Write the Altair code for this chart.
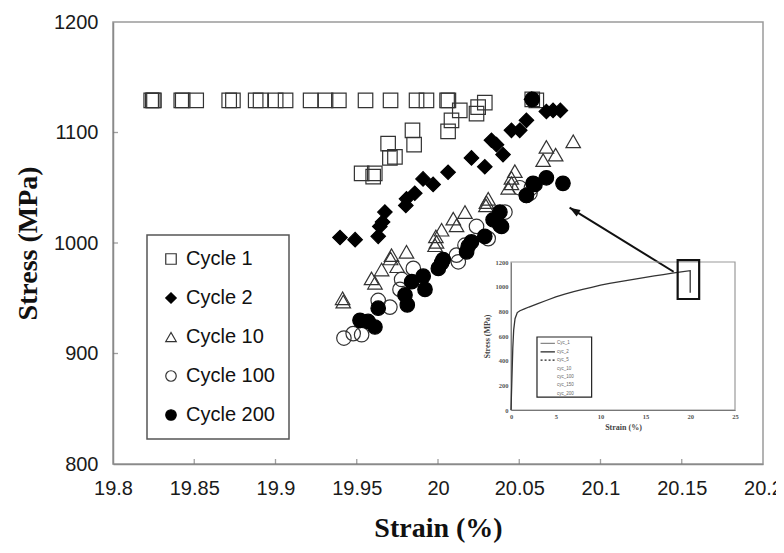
import altair as alt
import pandas as pd

cycles = ["Cycle 1", "Cycle 2", "Cycle 10", "Cycle 100", "Cycle 200"]

c1_strain = [19.8235, 19.8245, 19.8252, 19.842, 19.8429, 19.8512, 19.8715, 19.8738, 19.8878, 19.8908,
             19.9001, 19.9062, 19.9216, 19.9308, 19.939, 19.9554, 19.9708, 19.9868, 19.9929, 20.0056,
             20.0064, 20.058, 20.0605,
             20.0134, 20.0247, 20.0288, 20.0237, 20.0083, 20.0062, 19.9843, 19.9853, 19.9693, 19.9704,
             19.9735, 19.953, 19.9601, 19.9611]
c1_stress = [1129] * 21 + [1130, 1129] + [1120, 1123, 1127, 1117, 1111, 1101, 1102, 1089, 1090, 1077,
                                          1078, 1063, 1060, 1063]

c2_strain = [19.9397, 19.949, 19.9632, 19.9642, 19.9659, 19.9673, 19.9802, 19.9806, 19.9857, 19.9908,
             19.997, 20.0062, 20.0206, 20.0288, 20.0329, 20.036, 20.04, 20.0452, 20.0503, 20.0544,
             20.0575, 20.0667, 20.0708, 20.0753]
c2_stress = [1005, 1003, 1006, 1015, 1019, 1028, 1034, 1040, 1045, 1058, 1053, 1064, 1077, 1069, 1093,
             1089, 1080, 1102, 1102, 1111, 1130, 1119, 1120, 1120]

c10_strain = [20.0832, 20.0667, 20.0724, 20.0647, 20.0473, 20.0452, 20.0432, 20.0309, 20.0295, 20.0166,
              20.0094, 20.0114, 20.0022, 19.9991, 19.9806, 19.9714, 19.9708, 19.9653, 19.9591, 19.9612,
              19.9749, 19.9987, 19.9982, 20.0298, 20.0452, 19.9413, 19.9417]
c10_stress = [1092, 1087, 1080, 1075, 1065, 1059, 1050, 1040, 1034, 1028, 1022, 1016, 1012, 1001, 992,
              989, 986, 976, 968, 964, 979, 1006, 998, 1037, 1054, 950, 947]

c100_strain = [19.9421, 19.9478, 19.953, 19.9632, 19.9704, 19.9776, 19.9848, 19.9766, 20.0125, 20.0114,
               20.0166, 20.0237, 20.0309, 20.0412, 20.0503, 20.0575, 20.0544, 20.0566]
c100_stress = [914, 918, 917, 948, 942, 967, 977, 958, 983, 989, 998, 1015, 1004, 1028, 1050, 1050,
               1043, 1045]

c200_strain = [19.952, 19.957, 19.9612, 19.9632, 19.9811, 19.9797, 19.9838, 19.9909, 19.992, 20.0002,
               20.0022, 20.0176, 20.0206, 20.0288, 20.0339, 20.0391, 20.0381, 20.0544, 20.0585, 20.0769,
               20.0597, 20.0667, 20.0381, 20.0186, 20.0032, 20.058]
c200_stress = [930, 929, 924, 941, 944, 953, 965, 970, 958, 977, 982, 992, 1001, 1006, 1021, 1015, 1028,
               1043, 1054, 1054, 1053, 1059, 1016, 997, 985, 1130]

x_ticks = [19.8, 19.85, 19.9, 19.95, 20.0, 20.05, 20.1, 20.15, 20.2]
y_ticks = [800, 900, 1000, 1100, 1200]

# arrow (tail near the inset box, head at the data)
arrow_strain = [20.145, 20.081]
arrow_stress = [974, 1032]

# inset: full tensile curve
inset_strain = [0, 0.1, 0.2, 0.3, 0.45, 0.7, 1, 1.5, 2, 3, 4, 5, 6, 7, 8, 9, 10, 11, 12, 13, 14, 15,
                16, 17, 18, 19, 20, 20]
inset_stress = [0, 250, 500, 650, 740, 790, 805, 820, 835, 862, 890, 918, 940, 960, 978, 995, 1012,
                1026, 1039, 1051, 1063, 1075, 1087, 1098, 1110, 1120, 1130, 950]
inset_x_ticks = [0, 5, 10, 15, 20, 25]
inset_y_ticks = [0, 200, 400, 600, 800, 1000, 1200]
inset_zoom_box = [18.6, 21.0, 900, 1215]
inset_legend_box = [2.9, 9.0, 105, 592]
inset_legend_labels = ["Cyc_1", "cyc_2", "cyc_5", "cyc_10", "cyc_100", "cyc_150", "cyc_200"]
inset_legend_y = [540, 472, 404, 336, 268, 200, 132]

rows = []
for name, xs, ys in [("Cycle 1", c1_strain, c1_stress), ("Cycle 2", c2_strain, c2_stress),
                     ("Cycle 10", c10_strain, c10_stress), ("Cycle 100", c100_strain, c100_stress),
                     ("Cycle 200", c200_strain, c200_stress)]:
    for a, b in zip(xs, ys):
        rows.append({"cycle": name, "strain": a, "stress": b})
df = pd.DataFrame(rows)

xscale = alt.Scale(domain=[19.8, 20.2], nice=False, zero=False)
yscale = alt.Scale(domain=[800, 1200], nice=False, zero=False)

xaxis = alt.Axis(values=x_ticks, format="~g", ticks=False, grid=False, domainColor="#8a8a8a",
                 domainWidth=1.5, labelFont="Liberation Sans", labelFontSize=20, labelColor="#1a1a1a",
                 labelPadding=14, labelFlush=False, labelOverlap=False,
                 title="Strain (%)", titleFont="Liberation Serif", titleFontSize=28,
                 titleFontWeight="bold", titleColor="#111", titleX=325, titleY=64,
                 titleBaseline="middle", titleAlign="center")
yaxis = alt.Axis(values=y_ticks, format="d", ticks=False, grid=False, domainColor="#8a8a8a",
                 domainWidth=1.5, labelFont="Liberation Sans", labelFontSize=20, labelColor="#1a1a1a",
                 labelPadding=15, labelFlush=False, labelOverlap=False,
                 title="Stress (MPa)", titleFont="Liberation Serif", titleFontSize=28,
                 titleFontWeight="bold", titleColor="#111", titleX=-85, titleY=221,
                 titleAngle=-90, titleBaseline="middle", titleAlign="center")

legend_props = dict(title=None, orient="none", legendX=34, legendY=213)

points = alt.Chart(df).mark_point(filled=False, color="#222", strokeWidth=1.2, opacity=1).encode(
    x=alt.X("strain:Q", scale=xscale, axis=xaxis),
    y=alt.Y("stress:Q", scale=yscale, axis=yaxis),
    shape=alt.Shape("cycle:N", scale=alt.Scale(domain=cycles,
                    range=["square", "diamond", "triangle-up", "circle", "circle"]),
                    legend=alt.Legend(**legend_props)),
    fill=alt.Fill("cycle:N", scale=alt.Scale(domain=cycles,
                  range=["transparent", "#000000", "transparent", "transparent", "#000000"]),
                  legend=alt.Legend(**legend_props)),
    stroke=alt.Stroke("cycle:N", scale=alt.Scale(domain=cycles,
                      range=["#333333", "#000000", "#333333", "#333333", "#000000"]),
                      legend=alt.Legend(**legend_props)),
)

xt = alt.Chart(pd.DataFrame({"strain": x_ticks[1:-1], "stress": [800] * 7})).mark_tick(
    orient="vertical", color="#777", thickness=1.3, size=5, yOffset=-2.5).encode(
    x=alt.X("strain:Q", scale=xscale), y=alt.Y("stress:Q", scale=yscale))
yt = alt.Chart(pd.DataFrame({"stress": y_ticks[1:-1], "strain": [19.8] * 3})).mark_tick(
    orient="horizontal", color="#777", thickness=1.3, size=5, xOffset=2.5).encode(
    x=alt.X("strain:Q", scale=xscale), y=alt.Y("stress:Q", scale=yscale))

arrow_df = pd.DataFrame({"strain": arrow_strain, "stress": arrow_stress, "o": [0, 1]})
arrow_line = alt.Chart(arrow_df).mark_line(color="#111", strokeWidth=2).encode(
    x=alt.X("strain:Q", scale=xscale), y=alt.Y("stress:Q", scale=yscale), order="o:Q")
arrow_head = alt.Chart(arrow_df.iloc[[1]]).mark_point(
    shape="M0,0L-0.35,1L0.35,1Z", filled=True, color="#111", size=450, angle=302, opacity=1).encode(
    x=alt.X("strain:Q", scale=xscale), y=alt.Y("stress:Q", scale=yscale))

main = alt.layer(points, xt, yt, arrow_line, arrow_head)

# ---------------- inset ----------------
isx = alt.Scale(domain=[0, 25], range=[398, 622], nice=False, zero=False)
isy = alt.Scale(domain=[0, 1200], range=[388, 240], nice=False, zero=False)
iax = alt.Axis(values=inset_x_ticks, orient="bottom", offset=-54, ticks=False, grid=False,
               domainColor="#555", domainWidth=1, labelFont="Liberation Serif", labelFontSize=6.5,
               labelFontWeight="bold", labelColor="#555", labelPadding=3, labelFlush=False,
               format="d",
               title="Strain (%)", titleFont="Liberation Serif", titleFontSize=8,
               titleFontWeight="bold", titleColor="#444", titlePadding=4)
iay = alt.Axis(values=inset_y_ticks, orient="left", offset=-398, ticks=False, grid=False,
               domainColor="#555", domainWidth=1, labelFont="Liberation Serif", labelFontSize=6.5,
               labelFontWeight="bold", labelColor="#555", labelPadding=3, labelFlush=False,
               format="d",
               title="Stress (MPa)", titleFont="Liberation Serif", titleFontSize=8,
               titleFontWeight="bold", titleColor="#444", titlePadding=4)

frame = alt.Chart(pd.DataFrame({"s": [0], "s2": [25], "p": [0], "p2": [1200]})).mark_rect(
    fill="transparent", stroke="#9a9a9a", strokeWidth=1.2).encode(
    x=alt.X("s:Q", scale=isx, axis=iax), x2="s2", y=alt.Y("p:Q", scale=isy, axis=iay), y2="p2")
curve = alt.Chart(pd.DataFrame({"s": inset_strain, "p": inset_stress,
                                "o": list(range(len(inset_strain)))})).mark_line(
    color="#333", strokeWidth=1.3).encode(
    x=alt.X("s:Q", scale=isx, axis=iax), y=alt.Y("p:Q", scale=isy, axis=iay), order="o:Q")
zbox = alt.Chart(pd.DataFrame({"s": [inset_zoom_box[0]], "s2": [inset_zoom_box[1]],
                               "p": [inset_zoom_box[2]], "p2": [inset_zoom_box[3]]})).mark_rect(
    fill="transparent", stroke="#111", strokeWidth=2.2).encode(
    x=alt.X("s:Q", scale=isx, axis=iax), x2="s2", y=alt.Y("p:Q", scale=isy, axis=iay), y2="p2")
lbox = alt.Chart(pd.DataFrame({"s": [inset_legend_box[0]], "s2": [inset_legend_box[1]],
                               "p": [inset_legend_box[2]], "p2": [inset_legend_box[3]]})).mark_rect(
    fill="transparent", stroke="#222", strokeWidth=1.2).encode(
    x=alt.X("s:Q", scale=isx, axis=iax), x2="s2", y=alt.Y("p:Q", scale=isy, axis=iay), y2="p2")
leg_df = pd.DataFrame({"s": [3.3] * 7, "s2": [4.9] * 7, "p": inset_legend_y, "lab": inset_legend_labels,
                       "st": ["a", "b", "c", "d", "d", "d", "d"]})
leg_lines = alt.Chart(leg_df.iloc[:3]).mark_rule(strokeWidth=1.2).encode(
    x=alt.X("s:Q", scale=isx, axis=iax), x2="s2", y=alt.Y("p:Q", scale=isy, axis=iay),
    color=alt.Color("st:N", scale=alt.Scale(domain=["a", "b", "c"], range=["#888", "#222", "#222"]),
                    legend=None),
    strokeDash=alt.StrokeDash("st:N", scale=alt.Scale(domain=["a", "b", "c"],
                              range=[[1, 0], [1, 0], [2, 2]]), legend=None))
leg_text = alt.Chart(leg_df).mark_text(align="left", baseline="middle", fontSize=4.5, color="#666",
                                       dx=2).encode(
    x=alt.X("s2:Q", scale=isx, axis=iax), y=alt.Y("p:Q", scale=isy, axis=iay), text="lab:N")

inset = alt.layer(frame, curve, zbox, lbox, leg_lines, leg_text)

chart = alt.layer(main, inset).resolve_scale(
    x="independent", y="independent", color="independent", strokeDash="independent"
).properties(
    width=650, height=442,
    autosize=alt.AutoSizeParams(type="none"),
    padding={"left": 105, "top": 14, "right": 13, "bottom": 81},
).configure_view(
    stroke="#9a9a9a", strokeWidth=1.5
).configure_point(
    size=210
).configure_legend(
    strokeColor="#555", strokeWidth=1.5, fillColor="white",
    padding=14, labelFont="Liberation Sans", labelFontSize=20,
    labelColor="#111", symbolSize=110, symbolStrokeWidth=1.2,
    rowPadding=19, labelOffset=5, symbolOffset=0, labelLimit=200
)

chart.save("out.html", embed_options={"renderer": "svg", "actions": False})
